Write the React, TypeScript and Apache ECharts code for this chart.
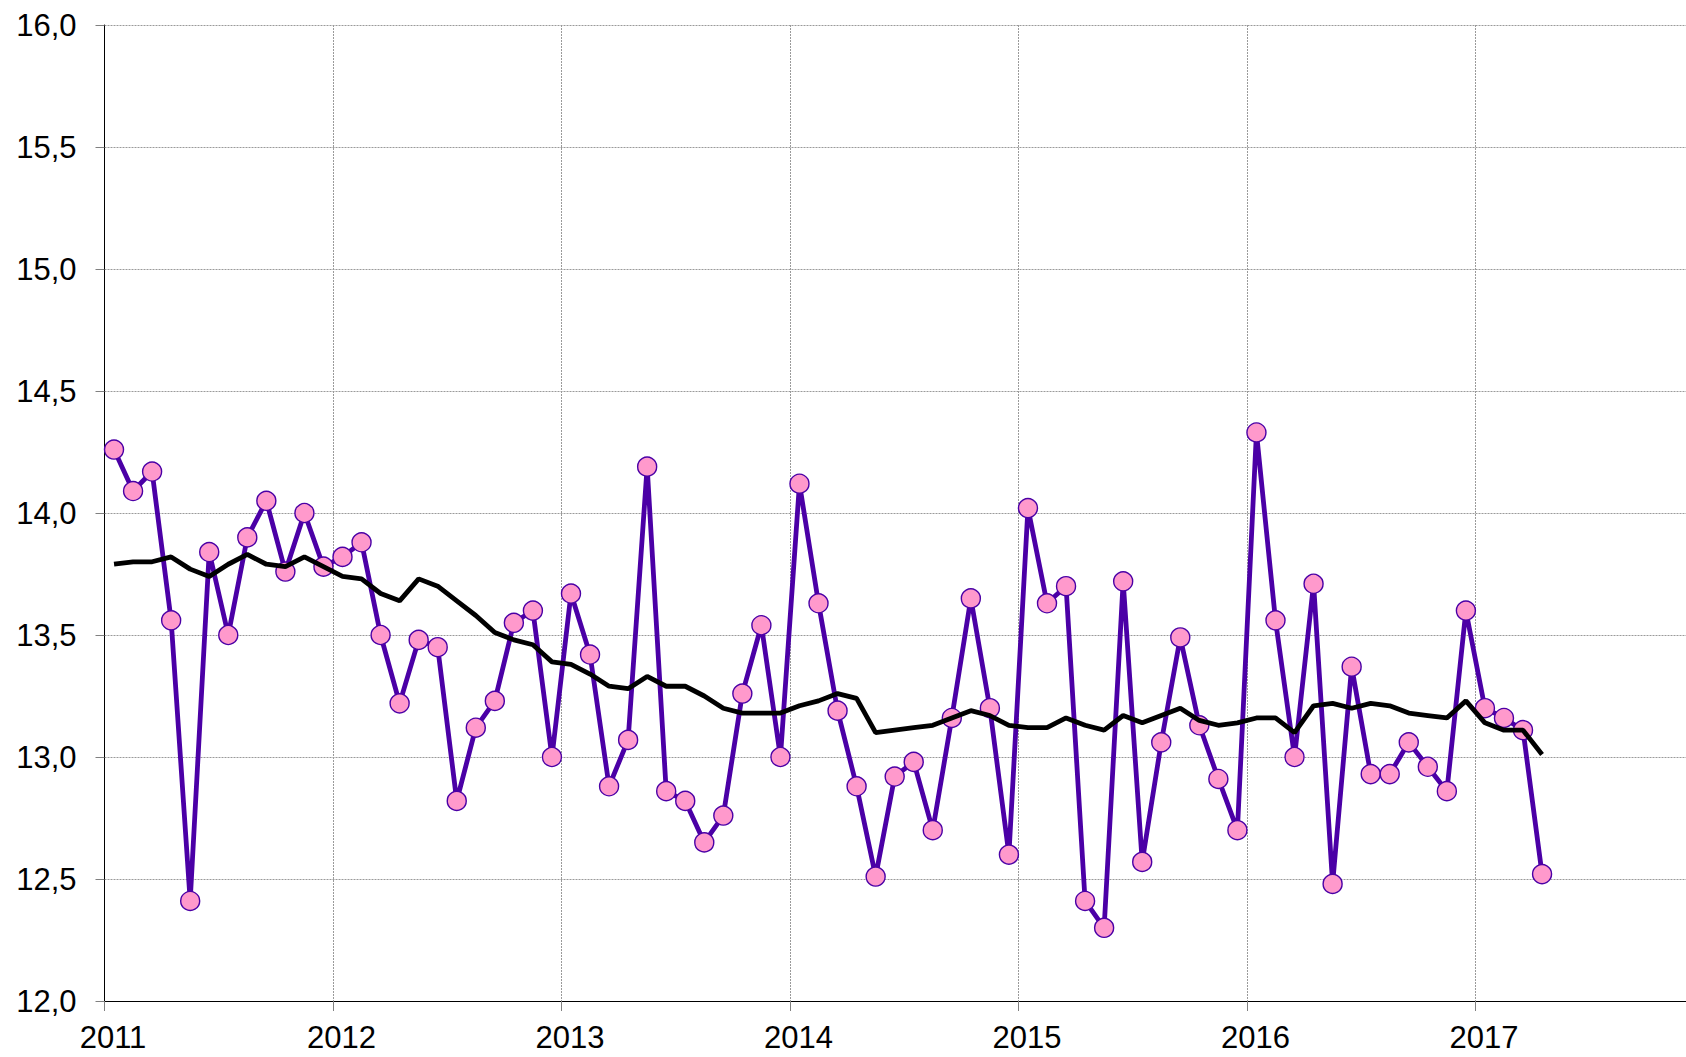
import React, { useEffect, useRef } from "react";
import * as echarts from "echarts";

// Monthly values, Jan 2011 – Apr 2017
const monthlyValues: number[] = [
  14.26, 14.09, 14.17, 13.56, 12.41, 13.84, 13.5, 13.9, 14.05, 13.76, 14.0, 13.78,
  13.82, 13.88, 13.5, 13.22, 13.48, 13.45, 12.82, 13.12, 13.23, 13.55, 13.6, 13.0,
  13.67, 13.42, 12.88, 13.07, 14.19, 12.86, 12.82, 12.65, 12.76, 13.26, 13.54, 13.0,
  14.12, 13.63, 13.19, 12.88, 12.51, 12.92, 12.98, 12.7, 13.16, 13.65, 13.2, 12.6,
  14.02, 13.63, 13.7, 12.41, 12.3, 13.72, 12.57, 13.06, 13.49, 13.13, 12.91, 12.7,
  14.33, 13.56, 13.0, 13.71, 12.48, 13.37, 12.93, 12.93, 13.06, 12.96, 12.86, 13.6,
  13.2, 13.16, 13.11, 12.52,
];

// Moving average (black line)
const movingAverage: number[] = [
  13.79, 13.8, 13.8, 13.82, 13.77, 13.74, 13.79, 13.83, 13.79, 13.78, 13.82, 13.78,
  13.74, 13.73, 13.67, 13.64, 13.73, 13.7, 13.64, 13.58, 13.51, 13.48, 13.46, 13.39,
  13.38, 13.34, 13.29, 13.28, 13.33, 13.29, 13.29, 13.25, 13.2, 13.18, 13.18, 13.18,
  13.21, 13.23, 13.26, 13.24, 13.1, 13.11, 13.12, 13.13, 13.16, 13.19, 13.17, 13.13,
  13.12, 13.12, 13.16, 13.13, 13.11, 13.17, 13.14, 13.17, 13.2, 13.15, 13.13, 13.14,
  13.16, 13.16, 13.1, 13.21, 13.22, 13.2, 13.22, 13.21, 13.18, 13.17, 13.16, 13.23,
  13.14, 13.11, 13.11, 13.01,
];

const yearLabels: string[] = ["2011", "2012", "2013", "2014", "2015", "2016", "2017"];
const yMin = 12;
const yMax = 16;
const yStep = 0.5;

const PURPLE = "#4B00A6";
const PINK = "#FF99CC";
const FONT = "'Liberation Sans', Arial, sans-serif";

export default function App() {
  const ref = useRef<HTMLDivElement>(null);

  useEffect(() => {
    if (!ref.current) return;
    const chart = echarts.init(ref.current, undefined, { renderer: "svg" });

    const mainData = monthlyValues.map((v, i) => [i + 0.5, v]);
    const avgData = movingAverage.map((v, i) => [i + 0.5, v]);

    chart.setOption({
      animation: false,
      backgroundColor: "#ffffff",
      grid: {
        left: 104.5,
        top: 25,
        width: 1599.4,
        height: 976,
        containLabel: false,
        outerBoundsMode: "none",
      },
      xAxis: {
        type: "value",
        min: 0,
        max: yearLabels.length * 12,
        interval: 12,
        axisLine: { show: true, lineStyle: { color: "#000000", width: 1 } },
        axisTick: { show: true, length: 10, lineStyle: { color: "#808080", width: 1 } },
        axisLabel: {
          margin: 21,
          fontSize: 31,
          color: "#000000",
          fontFamily: FONT,
          padding: [0, 0, 0, 17],
          formatter: (v: number) => {
            const idx = Math.round(v / 12);
            return idx < yearLabels.length ? yearLabels[idx] : "";
          },
        },
        splitLine: { show: true, lineStyle: { color: "#9a9a9a", type: [2, 1], width: 1 } },
      },
      yAxis: {
        type: "value",
        min: yMin,
        max: yMax,
        interval: yStep,
        axisLine: { show: true, lineStyle: { color: "#000000", width: 1 } },
        axisTick: { show: true, length: 9, lineStyle: { color: "#808080", width: 1 } },
        axisLabel: {
          margin: 28,
          fontSize: 31,
          color: "#000000",
          fontFamily: FONT,
          formatter: (v: number) => v.toFixed(1).replace(".", ","),
        },
        splitLine: { show: true, lineStyle: { color: "#9a9a9a", type: [2, 1], width: 1 } },
      },
      series: [
        {
          type: "line",
          data: mainData,
          symbol: "circle",
          symbolSize: 19,
          showAllSymbol: true,
          lineStyle: { color: PURPLE, width: 4.8 },
          itemStyle: { color: PINK, borderColor: PURPLE, borderWidth: 1.4 },
          z: 2,
        },
        {
          type: "line",
          data: avgData,
          symbol: "none",
          lineStyle: { color: "#000000", width: 4.8 },
          z: 3,
        },
      ],
    });

    return () => chart.dispose();
  }, []);

  return (
    <div
      ref={ref}
      style={{ position: "absolute", left: 0, top: 0, width: 1686, height: 1057, background: "#fff" }}
    />
  );
}
